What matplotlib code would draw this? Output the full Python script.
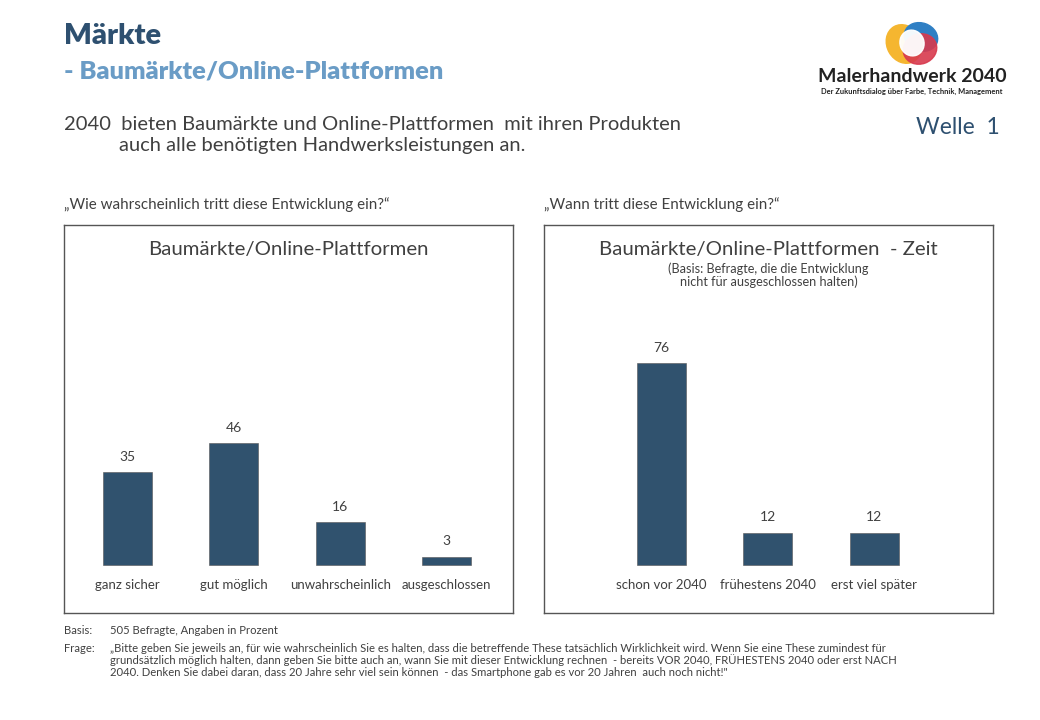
import matplotlib
matplotlib.use("Agg")
import matplotlib.pyplot as plt
from matplotlib.patches import Ellipse

plt.rcParams['font.family'] = ['Lato', 'DejaVu Sans']

# ---- data ----
cats_left = ["ganz sicher", "gut möglich", "unwahrscheinlich", "ausgeschlossen"]
vals_left = [35, 46, 16, 3]
cats_right = ["schon vor 2040", "frühestens 2040", "erst viel später"]
vals_right = [76, 12, 12]

title = "Märkte"
subtitle = "- Baumärkte/Online-Plattformen"
statement1 = "2040  bieten Baumärkte und Online-Plattformen  mit ihren Produkten"
statement2 = "auch alle benötigten Handwerksleistungen an."
q_left = "\u201eWie wahrscheinlich tritt diese Entwicklung ein?\u201c"
q_right = "\u201eWann tritt diese Entwicklung ein?\u201c"
box_title_left = "Baumärkte/Online-Plattformen"
box_title_right = "Baumärkte/Online-Plattformen  - Zeit"
box_sub_right = "(Basis: Befragte, die die Entwicklung\nnicht für ausgeschlossen halten)"
basis = "505 Befragte, Angaben in Prozent"
frage = ["\u201eBitte geben Sie jeweils an, für wie wahrscheinlich Sie es halten, dass die betreffende These tatsächlich Wirklichkeit wird. Wenn Sie eine These zumindest für",
         "grundsätzlich möglich halten, dann geben Sie bitte auch an, wann Sie mit dieser Entwicklung rechnen  - bereits VOR 2040, FRÜHESTENS 2040 oder erst NACH",
         "2040. Denken Sie dabei daran, dass 20 Jahre sehr viel sein können  - das Smartphone gab es vor 20 Jahren  auch noch nicht!\""]

W, H = 1040, 720
BAR = "#30526e"
DARK = "#2e5070"
LIGHT = "#6a9cc6"
GRAY = "#404040"

fig = plt.figure(figsize=(W / 100, H / 100), dpi=100)
fig.patch.set_facecolor("white")

# overlay axes in pixel coordinates for text
ov = fig.add_axes([0, 0, 1, 1])
ov.set_xlim(0, W)
ov.set_ylim(H, 0)
ov.axis("off")
ov.set_zorder(5)
ov.patch.set_alpha(0)

ov.text(64, 36, title, fontsize=21, fontweight="heavy", color=DARK, va="center", ha="left")
ov.text(64, 71, subtitle, fontsize=18.3, fontweight="heavy", color=LIGHT, va="center", ha="left")
ov.text(64, 124, statement1, fontsize=14.5, color=GRAY, va="center", ha="left")
ov.text(119, 145, statement2, fontsize=14.5, color=GRAY, va="center", ha="left")
ov.text(1000, 128, "Welle  1", fontsize=16.5, color=DARK, va="center", ha="right")
ov.text(64, 205, q_left, fontsize=10.9, color=GRAY, va="center", ha="left")
ov.text(544, 205, q_right, fontsize=10.9, color=GRAY, va="center", ha="left")

ov.text(64, 630, "Basis:", fontsize=8.1, color=GRAY, va="center", ha="left")
ov.text(110, 630, basis, fontsize=8.1, color=GRAY, va="center", ha="left")
ov.text(64, 648, "Frage:", fontsize=8.1, color=GRAY, va="center", ha="left")
for i, line in enumerate(frage):
    ov.text(110, 648 + 12 * i, line, fontsize=8.1, color=GRAY, va="center", ha="left")

# logo
ov.add_patch(Ellipse((904, 44), 34, 40, angle=-30, color="#f5b630", zorder=1))
ov.add_patch(Ellipse((921, 37), 34, 28, angle=20, color="#2f7fc4", zorder=2))
ov.add_patch(Ellipse((920, 49), 34, 30, angle=-20, color="#d83a4e", alpha=0.9, zorder=3))
ov.add_patch(Ellipse((912, 43), 24, 26, angle=-20, color="white", alpha=0.95, zorder=4))
ov.text(912, 76, "Malerhandwerk 2040", fontsize=14, fontweight="bold", color="#222222", ha="center", va="center")
ov.text(912, 91, "Der Zukunftsdialog über Farbe, Technik, Management", fontsize=5.4, fontweight="bold", color="#222222", ha="center", va="center")

# chart axes
PX_PER_UNIT = 2.645
BASE_Y = 564.5
BOX_TOP, BOX_BOT = 225, 613
ylo = -(BOX_BOT - BASE_Y) / PX_PER_UNIT
yhi = (BASE_Y - BOX_TOP) / PX_PER_UNIT


def make_axes(x0, x1, first_center, spacing):
    ax = fig.add_axes([x0 / W, (H - BOX_BOT) / H, (x1 - x0) / W, (BOX_BOT - BOX_TOP) / H])
    ax.set_xlim((x0 - first_center) / spacing, (x1 - first_center) / spacing)
    ax.set_ylim(ylo, yhi)
    ax.set_xticks([])
    ax.set_yticks([])
    for s in ax.spines.values():
        s.set_color("#555555")
        s.set_linewidth(1.0)
    return ax


def draw(ax, cats, vals, title_txt, sub=None):
    xs = list(range(len(cats)))
    ax.bar(xs, vals, width=49 / 106.6, color=BAR, edgecolor="#555555", linewidth=0.4)
    for x, v, c in zip(xs, vals, cats):
        ax.annotate(str(v), (x, v), xytext=(0, 11), textcoords="offset points",
                    ha="center", va="center", fontsize=10, color=GRAY)
        ax.annotate(c, (x, 0), xytext=(0, -15), textcoords="offset points",
                    ha="center", va="center", fontsize=9.5, color=GRAY)
    ax.text(0.5, 1 - 25 / 388, title_txt, transform=ax.transAxes, ha="center", va="center",
            fontsize=14.7, color=GRAY)
    if sub:
        ax.text(0.5, 1 - 50 / 388, sub, transform=ax.transAxes, ha="center", va="center",
                fontsize=9.1, color=GRAY, linespacing=1.0)


axl = make_axes(64, 513, 127, 106.6)
draw(axl, cats_left, vals_left, box_title_left)
axr = make_axes(544, 993, 661, 106.6)
draw(axr, cats_right, vals_right, box_title_right, box_sub_right)

fig.savefig("out.png", dpi=100, facecolor="white")
